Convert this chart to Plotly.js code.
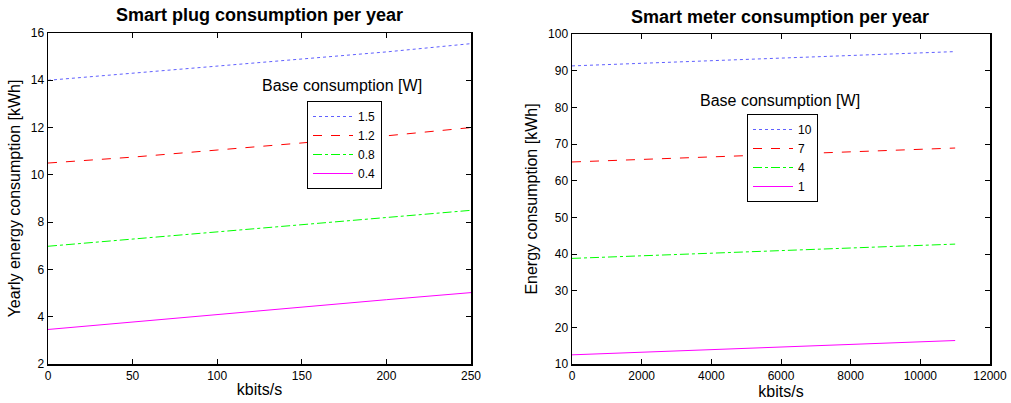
<!DOCTYPE html>
<html><head><meta charset="utf-8">
<script src="https://cdn.plot.ly/plotly-3.0.1.min.js"></script>
<style>html,body{margin:0;padding:0;background:#fff}#chart{width:1011px;height:403px}</style>
</head><body><div id="chart"></div>
<script>
// Left: smart plug
const plugX = [0, 50, 100, 150, 200, 250];
const plugNames = ['1.5', '1.2', '0.8', '0.4'];
const plug15 = [14.0, 14.3, 14.6, 14.9, 15.2, 15.55];
const plug12 = [10.5, 10.75, 11.05, 11.35, 11.65, 12.0];
const plug08 = [6.98, 7.28, 7.58, 7.9, 8.2, 8.5];
const plug04 = [3.46, 3.78, 4.08, 4.4, 4.72, 5.02];
// Right: smart meter
const meterX = [0, 2000, 4000, 6000, 8000, 10000, 11000];
const meterNames = ['10', '7', '4', '1'];
const meter10 = [91.3, 92.0, 92.7, 93.4, 94.1, 94.8, 95.2];
const meter7 = [65.1, 65.8, 66.5, 67.2, 67.9, 68.6, 68.9];
const meter4 = [38.8, 39.5, 40.2, 40.9, 41.6, 42.3, 42.7];
const meter1 = [12.5, 13.2, 13.9, 14.6, 15.3, 16.0, 16.4];

const styles = [
  {color: '#6060ff', dash: 'dot'},
  {color: '#ff0000', dash: 'dash'},
  {color: '#00ff00', dash: 'dashdot'},
  {color: '#ff00ff', dash: 'solid'}
];
const plugSeries = [plug15, plug12, plug08, plug04];
const meterSeries = [meter10, meter7, meter4, meter1];
const traces = [];
plugSeries.forEach((ys, i) => traces.push({
  x: plugX, y: ys, name: plugNames[i], type: 'scatter', mode: 'lines',
  line: {color: styles[i].color, dash: styles[i].dash, width: 1},
  xaxis: 'x', yaxis: 'y', legend: 'legend'
}));
meterSeries.forEach((ys, i) => traces.push({
  x: meterX, y: ys, name: meterNames[i], type: 'scatter', mode: 'lines',
  line: {color: styles[i].color, dash: styles[i].dash, width: 1},
  xaxis: 'x2', yaxis: 'y2', legend: 'legend2'
}));

const FONT = 'Liberation Sans, Arial, Helvetica, sans-serif';
const axisBase = {
  showline: true, linecolor: '#000', linewidth: 1.5, mirror: 'ticks',
  ticks: 'inside', ticklen: 5, tickwidth: 1, tickcolor: '#000',
  showgrid: false, zeroline: false, tickformat: 'd',
  tickfont: {family: FONT, size: 12, color: '#000'}
};
const W = 942, H = 331;
const TF = {family: FONT, size: 16, color: '#000'};
const legendBase = {
  bgcolor: '#fff', bordercolor: '#000', borderwidth: 1,
  font: {family: FONT, size: 12, color: '#000'},
  xanchor: 'left', yanchor: 'top', tracegroupgap: 0, itemwidth: 40
};
const layout = {
  width: 1011, height: 403,
  margin: {l: 48, r: 21, t: 33, b: 39},
  paper_bgcolor: '#fff', plot_bgcolor: '#fff',
  font: {family: FONT, color: '#000'},
  xaxis: Object.assign({}, axisBase, {domain: [0, 423 / W], range: [0, 250], dtick: 50,
    title: {text: 'kbits/s', font: TF, standoff: 2}}),
  yaxis: Object.assign({}, axisBase, {domain: [0, 1], range: [2, 16], dtick: 2,
    title: {text: 'Yearly energy consumption [kWh]', font: TF, standoff: 6}}),
  xaxis2: Object.assign({}, axisBase, {anchor: 'y2', domain: [524 / W, 1], range: [0, 12000], dtick: 2000,
    title: {text: 'kbits/s', font: TF, standoff: 2}}),
  yaxis2: Object.assign({}, axisBase, {anchor: 'x2', domain: [0, 330 / H], range: [10, 100], dtick: 10,
    title: {text: 'Energy consumption [kWh]', font: TF, standoff: 6}}),
  legend: Object.assign({}, legendBase, {x: 259 / W, y: (364 - 101) / H}),
  legend2: Object.assign({}, legendBase, {x: 699 / W, y: (364 - 114) / H}),
  showlegend: true,
  annotations: [
    {text: '<b>Smart plug consumption per year</b>', xref: 'paper', yref: 'paper',
     x: 211 / W, y: (364 - 15) / H, xanchor: 'center', yanchor: 'middle', showarrow: false,
     font: {family: FONT, size: 18, color: '#000'}},
    {text: '<b>Smart meter consumption per year</b>', xref: 'paper', yref: 'paper',
     x: 731.5 / W, y: (364 - 17) / H, xanchor: 'center', yanchor: 'middle', showarrow: false,
     font: {family: FONT, size: 18, color: '#000'}},
    {text: 'Base consumption [W]', xref: 'paper', yref: 'paper',
     x: 294 / W, y: (364 - 85) / H, xanchor: 'center', yanchor: 'middle', showarrow: false,
     font: TF},
    {text: 'Base consumption [W]', xref: 'paper', yref: 'paper',
     x: 732 / W, y: (364 - 100) / H, xanchor: 'center', yanchor: 'middle', showarrow: false,
     font: TF}
  ]
};
Plotly.newPlot('chart', traces, layout, {displayModeBar: false, staticPlot: true});
</script></body></html>
